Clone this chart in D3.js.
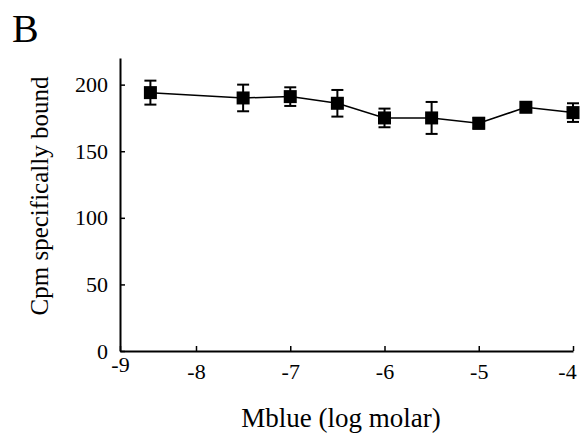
<!DOCTYPE html>
<html><head><meta charset="utf-8">
<script src="https://cdn.jsdelivr.net/npm/d3@7"></script>
<style>body{margin:0;background:#fff}svg{display:block}text{font-family:"Liberation Serif","Times New Roman",serif;fill:#000}</style>
</head><body><svg id="c" width="580" height="434"></svg>
<script>
const logConc = [-8.6, -7.5, -7, -6.5, -6, -5.5, -5, -4.5, -4];
const cpmBound = [194, 190, 191, 186, 175, 175, 171, 183, 179];
const cpmError = [9, 10, 7, 10, 7, 12, 4, 0, 7];
const xTicks = [-9, -8, -7, -6, -5, -4];
const yTicks = [0, 50, 100, 150, 200];

const svg = d3.select("#c");
const x = d3.scaleLinear().domain([-9, -8, -4]).range([120, 196, 573]);
const y = d3.scaleLinear().domain([0, 220]).range([351, 58]);

// axes
const xa = svg.append("g").attr("transform", `translate(0,${y(0)})`)
  .call(d3.axisBottom(x).tickValues(xTicks).tickSizeInner(-5).tickSizeOuter(0).tickPadding(12).tickFormat(d => d));
const ya = svg.append("g").attr("transform", `translate(${x(-9)},0)`)
  .call(d3.axisLeft(y).tickValues(yTicks).tickSizeInner(-5).tickSizeOuter(0).tickPadding(12).tickFormat(d => d));
[xa, ya].forEach(a => {
  a.select(".domain").attr("stroke", "#000").attr("stroke-width", 2);
  a.selectAll(".tick line").attr("stroke", "#000").attr("stroke-width", 1.5);
  a.selectAll(".tick text").style("font-size", "22px").attr("fill", "#000");
});
xa.selectAll(".tick text").filter(d => d === xTicks[0]).attr("dy", "0.4em");
xa.selectAll(".tick text").filter(d => d === xTicks[xTicks.length - 1]).attr("dx", "-6");

const data = logConc.map((c, i) => ({c, v: cpmBound[i], e: cpmError[i]}));

// line
svg.append("path").datum(data)
  .attr("d", d3.line().x(d => x(d.c)).y(d => y(d.v)))
  .attr("fill", "none").attr("stroke", "#000").attr("stroke-width", 1.5);

// error bars
const eb = svg.append("g").selectAll("g").data(data.filter(d => d.e > 0)).join("g");
eb.append("line").attr("x1", d => x(d.c)).attr("x2", d => x(d.c))
  .attr("y1", d => y(d.v + d.e)).attr("y2", d => y(d.v - d.e))
  .attr("stroke", "#000").attr("stroke-width", 2);
[1, -1].forEach(s => {
  eb.append("line").attr("x1", d => x(d.c) - 6).attr("x2", d => x(d.c) + 6)
    .attr("y1", d => y(d.v + s * d.e)).attr("y2", d => y(d.v + s * d.e))
    .attr("stroke", "#000").attr("stroke-width", 2);
});

// markers
svg.append("g").selectAll("rect").data(data).join("rect")
  .attr("x", d => x(d.c) - 6.5).attr("y", d => y(d.v) - 6.5)
  .attr("width", 13).attr("height", 13).attr("fill", "#000");

// labels
svg.append("text").attr("x", 12).attr("y", 42).style("font-size", "40px").text("B");
svg.append("text").attr("transform", "translate(48,196) rotate(-90)")
  .attr("text-anchor", "middle").style("font-size", "25px").text("Cpm specifically bound");
svg.append("text").attr("x", 341).attr("y", 427)
  .attr("text-anchor", "middle").style("font-size", "27px").text("Mblue (log molar)");
</script></body></html>
